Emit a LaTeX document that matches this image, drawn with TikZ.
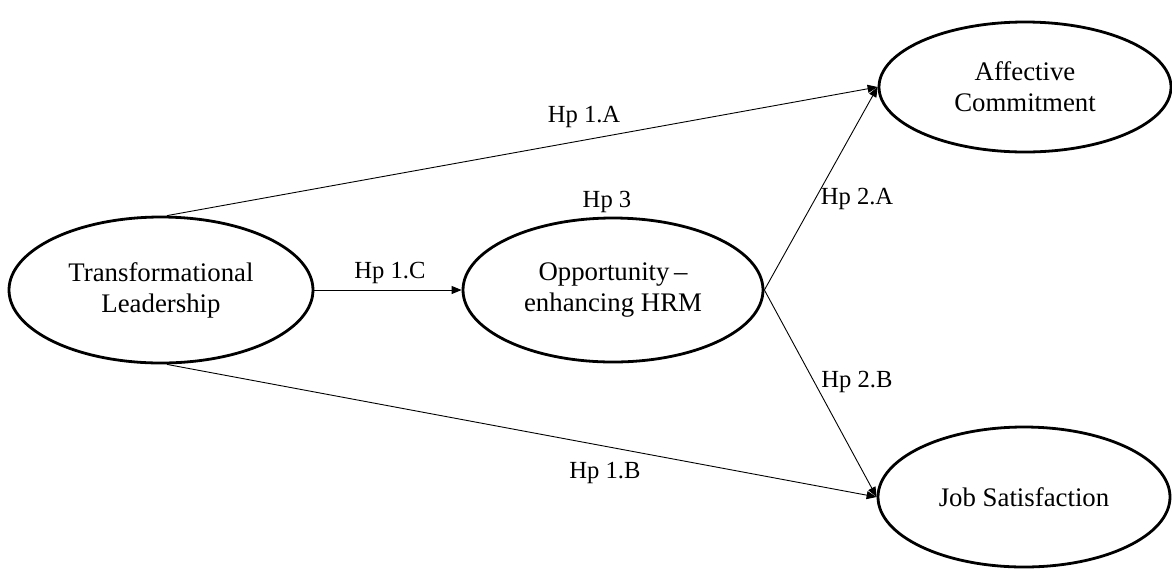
\documentclass[tikz,border=0pt]{standalone}
\usepackage{fontspec}
\setmainfont{Liberation Serif}
\usetikzlibrary{arrows.meta,shapes.geometric}
\begin{document}
\begin{tikzpicture}[x=0.5pt,y=-0.5pt,
  construct/.style={draw,ellipse,line width=1.4pt,inner sep=0pt,align=center,font=\fontsize{13.4}{15.5}\selectfont},
  link/.style={line width=0.45pt,-{Triangle[length=5pt,width=4pt]}},
  hyp/.style={font=\fontsize{12.3}{14}\selectfont,inner sep=0pt}]
\useasboundingbox (0,0) rectangle (1172,569);
\node[construct,minimum width=152pt,minimum height=73pt] (tl) at (161,290) {Transformational\\Leadership};
\node[construct,minimum width=150pt,minimum height=72pt] (oh) at (613,290) {Opportunity\,--\\enhancing HRM};
\node[construct,minimum width=146pt,minimum height=65pt] (ac) at (1025,87) {Affective\\Commitment};
\node[construct,minimum width=146pt,minimum height=70pt] (js) at (1024,497) {Job Satisfaction};
\draw[link] (tl.north) ++(6,0) -- (ac.west);
\draw[link] (tl.east) -- (oh.west);
\draw[link] (tl.south) ++(6,0) -- (js.west);
\draw[link] (oh.east) -- (ac.west);
\draw[link] (oh.east) -- (js.west);
\node[hyp] (h1a) at (584,117) {Hp 1.A};
\node[hyp] (h3) at (607,202) {Hp 3};
\node[hyp] (h1c) at (390,273) {Hp 1.C};
\node[hyp] (h2a) at (857,199) {Hp 2.A};
\node[hyp] (h2b) at (857,382) {Hp 2.B};
\node[hyp] (h1b) at (605,473) {Hp 1.B};
\end{tikzpicture}
\end{document}
